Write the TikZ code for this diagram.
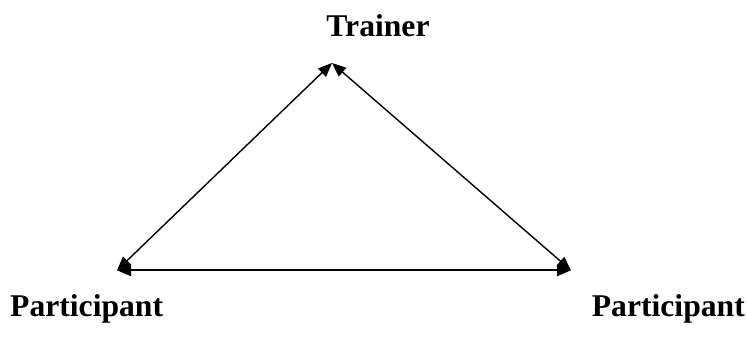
\documentclass[tikz,border=0pt]{standalone}
\usepackage{fontspec}
\setmainfont{Liberation Serif}
\usetikzlibrary{arrows.meta}
\tikzset{
  >={Triangle[length=4.2mm,width=3.4mm]},
  link/.style={<->,line width=1.2pt,draw=black},
  base link/.style={<->,line width=1.6pt,draw=black},
  role/.style={font=\fontsize{27}{30}\selectfont\bfseries,inner sep=0pt}
}

\begin{document}
\begin{tikzpicture}[x=1cm,y=1cm]
  \useasboundingbox (0,0) rectangle (22.41,10.11);

  % labels
  \node[role,anchor=base] (trainer) at (11.34,9.0) {Trainer};
  \node[role,anchor=base west] (partA) at (0.3,0.6) {Participant};
  \node[role,anchor=base west] (partB) at (17.75,0.6) {Participant};

  % corners of the triangle
  \coordinate (apex) at (9.96,8.22);
  \coordinate (left) at (3.51,2.0);
  \coordinate (right) at (17.13,2.0);

  \draw[link] (left) -- (apex);
  \draw[link] (apex) -- (right);
  \draw[base link] (left) -- (right);
\end{tikzpicture}
\end{document}
